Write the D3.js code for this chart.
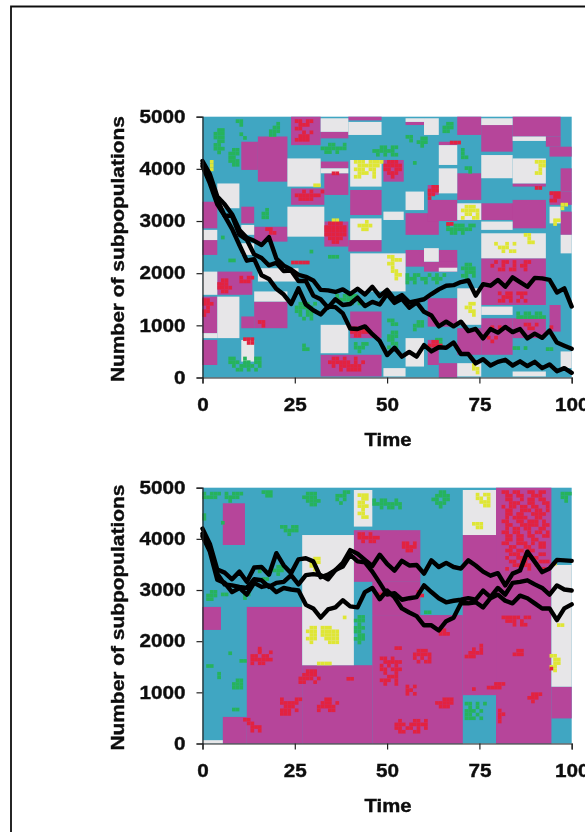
<!DOCTYPE html>
<html>
<head>
<meta charset="utf-8">
<script src="https://cdn.jsdelivr.net/npm/d3@7"></script>
<style>
    html, body { margin: 0; padding: 0; background: #fff; overflow: hidden; }
    svg { display: block; }
    text { font-family: "Liberation Sans", Arial, sans-serif; font-weight: bold; fill: #111; stroke: #111; stroke-width: 0.4px; }
</style>
</head>
<body>
<div id="chart"></div>
<script>
const valueTicks = [0, 1000, 2000, 3000, 4000, 5000]
const timeTicks = [0, 25, 50, 75, 100]
const times = [0, 2, 4, 6, 8, 10, 12, 14, 16, 18, 20, 22, 24, 26, 28, 30, 32, 34, 36, 38, 40, 42, 44, 46, 48, 50,
    52, 54, 56, 58, 60, 62, 64, 66, 68, 70, 72, 74, 76, 78, 80, 82, 84, 86, 88, 90, 92, 94, 96, 98, 100]

// Upper panel, three runs
const runA1 = [4150, 3900, 3470, 3320, 3130, 2830, 2680, 2620, 2540, 2690, 2280, 2145, 2070, 1970, 1930, 1860, 1680, 1670, 1640, 1690, 1600, 1700, 1590, 1740, 1560, 1680,
    1500, 1580, 1440, 1470, 1500, 1600, 1690, 1760, 1770, 1830, 1860, 1570, 1790, 1760, 1870, 1740, 1920, 1830, 1740, 1910, 1900, 1870, 1630, 1710, 1360]
const runA2 = [4100, 3780, 3420, 3100, 3100, 2740, 2640, 2360, 2290, 2150, 2200, 2040, 2050, 1850, 1850, 1570, 1500, 1340, 1500, 1390, 1410, 1530, 1370, 1450, 1400, 1600,
    1430, 1510, 1340, 1440, 1260, 1190, 980, 1070, 980, 1070, 890, 930, 750, 930, 860, 970, 870, 930, 750, 840, 760, 900, 670, 610, 550]
const runA3 = [4050, 3720, 3320, 3100, 2850, 2540, 2240, 2270, 1960, 1890, 1700, 1590, 1410, 1710, 1400, 1290, 1210, 1360, 1350, 1230, 940, 930, 980, 830, 700, 430,
    570, 400, 490, 400, 620, 500, 580, 570, 670, 450, 450, 270, 350, 230, 300, 340, 230, 310, 220, 300, 180, 250, 120, 180, 90]

// Lower panel, three runs
const runB1 = [4200, 3900, 3400, 3340, 3210, 3360, 3160, 3440, 3450, 3300, 3720, 3480, 3330, 3600, 3620, 3560, 3250, 3300, 3390, 3530, 3780, 3710, 3590, 3470, 3690, 3510,
    3380, 3570, 3480, 3490, 3320, 3580, 3450, 3530, 3450, 3420, 3580, 3480, 3360, 3280, 3330, 3090, 3320, 3380, 3750, 3550, 3350, 3420, 3590, 3580, 3570]
const runB2 = [4100, 3780, 3320, 3110, 3090, 3060, 3040, 3210, 3190, 3060, 3140, 3160, 3290, 3110, 3290, 3310, 3290, 3210, 3390, 3460, 3690, 3560, 3540, 3360, 3140, 2910,
    2940, 2810, 2840, 2860, 3090, 2960, 2840, 2760, 2790, 2810, 2840, 2810, 2990, 2860, 3040, 2910, 3140, 3160, 3190, 3110, 3040, 2910, 3090, 3010, 2990]
const runB3 = [4050, 3750, 3200, 3140, 2960, 3040, 2910, 3140, 3060, 3090, 2960, 3040, 3010, 2990, 2710, 2640, 2460, 2620, 2660, 2800, 2680, 2660, 2960, 3040, 2820, 2990,
    2860, 2640, 2560, 2490, 2310, 2310, 2210, 2390, 2460, 2740, 2740, 2760, 2660, 2840, 2910, 2790, 2740, 2890, 2840, 2740, 2640, 2640, 2410, 2640, 2720]

// Patches of each state: [time from, time to, value from, value to]. The teal state fills the rest.
const magentaA = [[24, 32, 4455, 5000], [32, 39.5, 4585, 4710], [39.5, 48.5, 4930, 5000], [55, 60, 4840, 4900], [69, 75.5, 4650, 5000], [75.5, 84, 4330, 4840],
    [84, 97, 4620, 5000], [93, 97, 4425, 4620], [94, 100, 4235, 4425], [15, 23, 3755, 4620], [10.5, 15, 3980, 4520], [32, 39.5, 4010, 4140], [33, 39.5, 3500, 3915],
    [49, 54.5, 3755, 4170], [24, 33, 3310, 3625], [40, 48.5, 3115, 3595], [64, 69, 4455, 4520], [69, 75.5, 3405, 3915], [84, 93, 3660, 3720], [33, 39.5, 2510, 2990],
    [39.5, 48.5, 2415, 2635], [0, 4, 2860, 3370], [0, 4, 2350, 2635], [10.5, 14, 2955, 3275], [14, 23, 2605, 2890], [55, 64, 2735, 3150], [61, 69, 3000, 3405],
    [61, 64, 3500, 3690], [75.5, 93, 3020, 3340], [84, 93, 2860, 3405], [97, 100, 2735, 3180], [94, 100, 3310, 3565], [97, 100, 3565, 4010], [55, 60, 2125, 2445],
    [64, 69, 2125, 2445], [60, 69, 2030, 2220], [4, 13.5, 1585, 2030], [0, 4, 850, 1550], [10.5, 14, 945, 1170], [14, 23, 945, 1455], [0, 4, 240, 720],
    [40, 48.5, 755, 1265], [61, 69, 975, 1520], [75.5, 93, 1390, 2285], [75.5, 84, 435, 1135], [84, 93, 755, 1135], [94, 97, 880, 1390], [69, 75.5, 435, 945],
    [32, 48.5, 20, 435], [61, 64, 240, 720], [64, 69, 0, 275]]
const grayA = [[32, 39.5, 4710, 4970], [39.5, 48.5, 4650, 4900], [55, 60, 4900, 4970], [60, 64, 4650, 4970], [75.5, 84, 4840, 4970], [84, 93, 4535, 4620],
    [23, 32, 3660, 4200], [32, 39.5, 3915, 4010], [40, 48.5, 3660, 4170], [64, 69, 4075, 4455], [64, 69, 3530, 4010], [75.5, 84, 3820, 4265], [84, 93, 3720, 4200],
    [23, 33, 2700, 3275], [40, 48.5, 2635, 3050], [49, 54.5, 3020, 3180], [4, 10, 3245, 3720], [0, 4, 2635, 2830], [10.5, 14, 2735, 2925], [55, 60, 3210, 3565],
    [69, 75.5, 3020, 3340], [75.5, 84, 2830, 2990], [75.5, 93, 2285, 2765], [94, 97, 2955, 3275], [97, 100, 2380, 2735], [10.5, 14, 2350, 2575], [40, 55, 1650, 2380],
    [60, 64, 2220, 2480], [64, 69, 2030, 2105], [0, 4, 1585, 2030], [15, 26, 1840, 2095], [14, 23, 1455, 1650], [4, 10, 755, 1550], [0, 4, 755, 850], [10.5, 14, 305, 720],
    [69, 75.5, 1010, 1710], [75.5, 84, 1200, 1360], [32, 39.5, 465, 1010], [49, 55, 20, 180], [55, 60, 210, 755], [69, 75.5, 20, 275], [84, 93, 20, 115], [97, 100, 180, 500]]
const magentaB = [[5.5, 11.5, 3880, 4695], [41, 59, 3160, 4170], [70.5, 79.5, 945, 4075], [79.5, 94.5, 0, 5000], [46, 59, 2510, 3160], [46, 70.5, 0, 2510],
    [12, 27, 0, 2670], [27, 46, 0, 1530], [5.5, 12, 0, 520], [0, 5, 2220, 2670], [94.5, 100, 490, 1110]]
const grayB = [[41, 46, 4240, 4955], [70.5, 79.5, 4075, 4955], [27, 41, 1530, 4075], [94.5, 100, 1110, 3490], [0, 5.5, 0, 65]]

// Small clusters of single cells: [first time, top value, rows of cells]
const greenA = [[3, 4780, ".xx|xxx|xxx|.xx|xx.|xxx|.x."], [7, 4400, ".xx|xxx|xx.|xxx|.xx"], [18, 4900, "..x|.xx|xxx|xx."], [9, 4950, "xx|.x"], [10, 4700, "x.|.x"], [16, 3250, ".x|xx|xx"],
    [32, 4500, "..xx..x|xxxxxxx|.xx.x.."], [46, 4450, "..xx.xx|xxxxxx.|.x.x.xx"], [55, 4650, "xx.|.x."], [58, 4620, ".xx|xxx|.x."], [57, 4150, "x"], [65, 4900, ".xx|xxx|xx."],
    [70, 4400, "x|x.|xx"], [71, 4050, "xx|.x"], [66, 2950, "x.xxx.xx|xxxxxxx.|.xx.x.."], [70, 2200, ".xx.|xxxx|.xxx|xx.x|.x.."], [55, 2000, "x.xx..x.x.x|xxx.xx.xxx.|x.x..x..x.."],
    [7, 400, "xx..x..xx|xxx.xx.xx|.x.xxxx.x|..xx.x.x."], [25, 1450, ".xxx.x|xxxxx.|xx.xxx|.x.xx.|..x.x."], [27, 650, "x.|xx"], [36, 1600, "x.xxxx.|xxxxxx.|.x.xx.x"],
    [50, 1130, "xx.|.xx"], [50, 900, ".xx|xxx|xx.|.xx|x.x"], [57, 1100, ".xx|xxx|x.."], [41, 680, "x.xx|xxx.|.x.."], [84, 600, "xx.x"], [93, 580, "xx"], [85, 1265, "x.xx.xx.|xxxxxxxx"],
    [34, 2350, "xxx"], [29, 2450, "x"], [7, 2280, "xx"], [5, 2720, "x"], [63, 760, "xx|.x"], [61, 600, "x"]]
const yellowA = [[41, 4170, "xxx.xxxx|.xxxxxx.|xxx.xx..|.xxx.x..|xx...x.."], [42, 3020, "..x.|xxxx|.xx."], [50, 2290, ".xxx|xx..|.x..|.xx.|..xx|..x."], [70, 3310, ".xxx.|xxxxx|.xx.x|x..xx"],
    [89, 4170, ".xxx|..xx|..x.|.xx."], [79, 2600, "x..x.x|.xxx..|..x.xx"], [87, 2770, "xx.|.x.|.xx"], [95, 3050, "xx|x."], [97, 3350, "xx|x."], [71, 1450, ".xx|xx.|.xx|..x"],
    [73, 275, "x.|xx|.x"], [50, 2350, "xx"], [35, 3050, "xx"], [30, 3720, "xx"], [2, 4170, "x|x|x"]]
const redA = [[25, 4950, "xx.xx|.xxx.|xx...|..x.x|.xxx.|xxxx."], [49, 4170, ".xxx.|xxxxx|xx.xx|.xxx.|..x.."], [33, 2990, ".xxxx.|xxxxxx|xxxxxx|xxxxxx|.xxxx.|..xx.."],
    [25, 3600, "..x.x..x|xxxxxxx.|.xxxx..."], [61, 3690, ".xx|xxx|xx.|x.."], [4, 1900, ".xx.|xxx.|xxxx|.xx."], [10, 1950, "x.xx|xxx."], [0, 1520, "xx.|xxx|.x.|xx.|x.."],
    [11, 770, "xxx|.xx"], [17, 2880, "xx.|.xx"], [15, 1100, "xx|.x"], [34, 400, ".xx.x..x..|xxxxxx.x.x|.x.xxxxxx.|...x.xxxx."], [40, 980, "xx.xx|xxxxx|.xx.."],
    [78, 2250, ".x.xx.x..xx|x..x..x.xx.|..xx.xx..x."], [80, 1650, "x.xx.xxx|.xxx..x.|xx.x.x.x"], [94, 3570, "xxx|.xx|xx."], [87, 1050, "xx.x|.xx."], [78, 1000, "x.x"], [94, 1000, "x"],
    [61, 720, ".xx.|xxxx"], [66, 2980, "xx"], [67, 4540, "xxx"], [35, 3950, "xx"], [90, 3670, "xx"], [77, 800, "x.x|.x."], [24, 2240, "xxxxx"]]

const greenB = [[0, 4920, "x.xxx|xxxx."], [6, 4920, "x.xxx|xxxx.|.x..."], [16, 4950, "xxx|.xx"], [27, 4920, ".xxx.|xxxx.|.xxxx|..xx."], [36, 4950, "..xx|xxx.|x.x.|.x.."],
    [21, 4270, "xx.xx|.xxxx|..x.."], [46, 4790, "x.xx..x.|xxxxxxxx|..x.xx.x"], [62, 4950, "..xx.|.xxxx|xx.xx|.xxx.|..x.."], [97, 4920, "xxx|xx.|.x."], [1, 3000, ".xx|xxx|xx."],
    [5, 2950, "xx"], [11, 2950, "xx|x."], [8, 1270, ".xx|xxx|xxx"], [4, 1400, "x|x"], [1, 1550, "xx"], [7, 1800, "x"], [10, 1650, "xx"], [8, 700, "xx"],
    [41, 2510, ".xx|xxx|.x.|xxx|xx.|.xx|xxx|.x."], [71, 815, "xx.x.x|.x.x..|xxx.x.|xx.x..|xxx.x."], [19, 3490, ".xx|xxx|.x."], [16, 3250, "xx"], [15, 3400, "x"], [5, 4350, "x"], [0, 4500, "x|x"], [60, 2600, "xx"]]
const yellowB = [[42, 4890, "xxx|.xx|xx.|xxx|.x.|xx.|.xx"], [74, 4900, "x.xx|xx.x|.xxx|..xx"], [73, 4330, "xxx|.xx"], [28, 2300, ".xx.xxx..|xxx.xxxxx|.xx.xxxxx|xxx..xxxx|.x....xxx"],
    [29, 3650, ".xx|xxx|xx.|.x."], [31, 1600, "xxxx"], [94, 1750, "xx.|.xx|.xx|xx.|.x."], [96, 2350, "xx"], [95, 3550, "x"], [38, 2500, "x"]]
const redB = [[81, 4950, "xx.xx..xx.xx.|.xx.xx..xxx..|.xx..x.xx.xx.|..xxx..xx..xx|x.xx.xx.xx..x|.xx..xxx.xx.x|.xx.xx..xxxx.|.x.xxxx..xx..|xx..xx.xxx.x.|.xx..xxxxx.xx|.x.xx.xx..xx.|xx.xx..x.xx.x|.xx.xx.xx..xx|.xx.xx..xx...|xx..xxx.x.xx.|..xx..xx..xx.|.xx.xx.xx....|..xxx.xx..xx.|.x..xx.xxx...|..xx.xx...xxx|...xx.xx.x...|.x.....x...x."],
    [42, 4130, "xx.x..|xxxxxx|.x.xx."], [54, 3950, "xx.x|xxxx|.xx."], [58, 3000, "x.|xx"], [47, 2950, "xx"], [13, 1890, "..x...|..x..x|xx.xx.|xxxxxx|x.xx.."], [26, 1450, "..xxx.|.xxxx.|xxxx.x|xx..x."],
    [21, 900, "x...xx|xxxxx.|.xxx..|xxx.x.|xxx..."], [31, 900, "..xx..|.xxx.x|xxxxx.|x..xx."], [11, 500, "xx...|.xx..|..xxx|..x.x"], [48, 1700, "xx.x.|.xxxxx|x.x.x.|xx.xxx|.x..x.|..xxx|xxx.x|.x..x"],
    [55, 1150, "x.x|xx.|x.x"], [57, 1850, ".xxx.|xxxxx|x.x.x|.x.xx"], [63, 900, "..xxx|xxxxx|.xxx."], [52, 480, ".x...xx.x|xxx.xxxxx|xx.xx.x.x|.xx..xx.."], [71, 1950, "....x|..x.x|.xxxx|xxx.."],
    [77, 1200, "..xxx|xxxx."], [81, 2500, "xxxxx.xx|.xxx.x..|...x.xx."], [88, 1000, ".xxx|xxx.|.x.."], [80, 680, "x|xx|x.|x."], [64, 2250, "xx.|xxx"], [84, 1850, ".xx|xxx"], [15, 1850, "x"], [52, 1900, "xx"], [39, 1300, "xx"], [94, 1500, "x"], [73, 1100, "x"]]

const margin = { left: 202.5, right: 13.3 },
    width = 585,
    height = 832

const colors = { teal: "#3fa6c2", magenta: "#b6449a", gray: "#e7e6e8", green: "#27b35c", yellow: "#dfe635", red: "#e2233f" }

const svg = d3.select("#chart").append("svg").attr("width", width).attr("height", height)

// Soft scan look of the source picture
svg.append("defs").append("filter").attr("id", "soft")
    .attr("x", "-5%").attr("y", "-5%").attr("width", "110%").attr("height", "110%")
    .append("feGaussianBlur").attr("stdDeviation", 0.7)

const page = svg.append("g").attr("filter", "url(#soft)")

// Frame of the figure
page.append("path").attr("d", "M11,840V6.5H600").attr("fill", "none").attr("stroke", "#111").attr("stroke-width", 1.8)

const x = d3.scaleLinear().domain([0, 100]).range([margin.left, width - margin.right])

// The source text is stretched sideways by about 1.15
const stretched = d => String(d).length * 11.5

function drawPanel(top, bottom, magenta, gray, green, yellow, red, runs) {
    const y = d3.scaleLinear().domain([0, 5000]).range([bottom, top])
    const cell = 5000 / 70

    const g = page.append("g")

    g.append("rect")
        .attr("x", x(0)).attr("y", y(5000))
        .attr("width", x(100) - x(0)).attr("height", y(0) - y(5000))
        .attr("fill", colors.teal)

    const patch = (list, color) => g.append("g").selectAll("rect").data(list).join("rect")
        .attr("x", d => x(d[0]))
        .attr("width", d => x(d[1]) - x(d[0]))
        .attr("y", d => y(d[3]))
        .attr("height", d => y(d[2]) - y(d[3]))
        .attr("fill", color)

    patch(magenta, colors.magenta)
    patch(gray, colors.gray)

    // Expand each cluster to its single cells
    const speckle = (list, color) => {
        const cells = []
        list.forEach(([t, v, rows]) => rows.split("|").forEach((row, r) => row.split("").forEach((c, i) => {
            if (c === "x") cells.push([t + i, v - r * cell])
        })))
        g.append("g").selectAll("rect").data(cells).join("rect")
            .attr("x", d => x(d[0]))
            .attr("width", x(1) - x(0))
            .attr("y", d => y(d[1]))
            .attr("height", y(0) - y(cell))
            .attr("fill", color)
    }

    speckle(green, colors.green)
    speckle(yellow, colors.yellow)
    speckle(red, colors.red)

    const line = d3.line().x((d, i) => x(times[i])).y(d => y(d))

    g.append("g").selectAll("path").data(runs).join("path")
        .attr("d", line)
        .attr("fill", "none")
        .attr("stroke", "#000")
        .attr("stroke-width", 4.4)
        .attr("stroke-linejoin", "round")
        .attr("stroke-linecap", "round")

    // Eixos
    const axisY = g.append("g")
        .attr("transform", "translate(" + x(0) + ",0)")
        .call(d3.axisLeft(y).tickValues(valueTicks).tickSize(6).tickPadding(11).tickFormat(d3.format("d")))
    const axisX = g.append("g")
        .attr("transform", "translate(0," + y(0) + ")")
        .call(d3.axisBottom(x).tickValues(timeTicks).tickSize(6).tickPadding(15).tickFormat(d3.format("d")))

    const tickText = s => s.selectAll("text")
        .attr("font-size", 18)
        .attr("font-family", null)
        .attr("textLength", stretched)
        .attr("lengthAdjust", "spacingAndGlyphs")
    tickText(axisY)
    tickText(axisX)
    axisY.selectAll("line,path").attr("stroke", "#222").attr("stroke-width", 1.2)
    axisX.selectAll("line,path").attr("stroke", "#222").attr("stroke-width", 1.2)

    g.append("text")
        .attr("transform", "translate(124," + ((top + bottom) / 2 + 2) + ") rotate(-90)")
        .attr("text-anchor", "middle")
        .attr("font-size", 18)
        .attr("textLength", 266)
        .attr("lengthAdjust", "spacingAndGlyphs")
        .text("Number of subpopulations")

    g.append("text")
        .attr("x", x(50) + 1)
        .attr("y", bottom + 68.5)
        .attr("text-anchor", "middle")
        .attr("font-size", 18)
        .attr("textLength", 47)
        .attr("lengthAdjust", "spacingAndGlyphs")
        .text("Time")
}

drawPanel(116.7, 377.5, magentaA, grayA, greenA, yellowA, redA, [runA1, runA2, runA3])
drawPanel(487.7, 743.5, magentaB, grayB, greenB, yellowB, redB, [runB1, runB2, runB3])
</script>
</body>
</html>
